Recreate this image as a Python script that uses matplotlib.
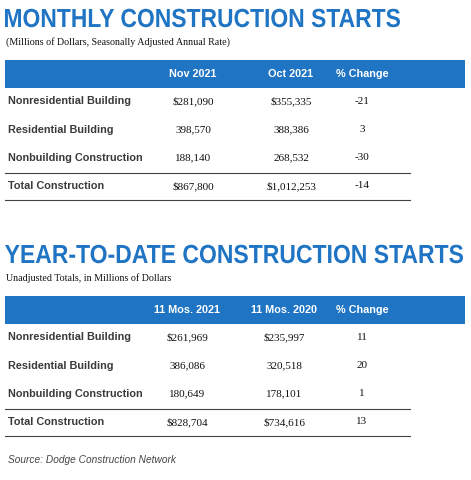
import matplotlib
matplotlib.use("Agg")
import matplotlib.pyplot as plt
from matplotlib.patches import Rectangle, PathPatch
from matplotlib.textpath import TextPath
from matplotlib.font_manager import FontProperties
from matplotlib.transforms import Affine2D

BLUE = "#1f74c3"
GRAY = "#3a3a3a"

m_title = "MONTHLY CONSTRUCTION STARTS"
m_sub = "(Millions of Dollars, Seasonally Adjusted Annual Rate)"
m_headers = ["Nov 2021", "Oct 2021", "% Change"]
m_rows = ["Nonresidential Building", "Residential Building", "Nonbuilding Construction", "Total Construction"]
m_col1 = ["$281,090", "398,570", "188,140", "$867,800"]
m_col2 = ["$355,335", "388,386", "268,532", "$1,012,253"]
m_col3 = ["-21", "3", "-30", "-14"]

y_title = "YEAR-TO-DATE CONSTRUCTION STARTS"
y_sub = "Unadjusted Totals, in Millions of Dollars"
y_headers = ["11 Mos. 2021", "11 Mos. 2020", "% Change"]
y_rows = ["Nonresidential Building", "Residential Building", "Nonbuilding Construction", "Total Construction"]
y_col1 = ["$261,969", "386,086", "180,649", "$828,704"]
y_col2 = ["$235,997", "320,518", "178,101", "$734,616"]
y_col3 = ["11", "20", "1", "13"]

source = "Source: Dodge Construction Network"

fig = plt.figure(figsize=(4.71, 4.8), dpi=100)
ax = fig.add_axes([0, 0, 1, 1])
ax.set_xlim(0, 471)
ax.set_ylim(480, 0)
ax.axis("off")

SERIF = ["Liberation Serif", "DejaVu Serif"]
SANS = ["Liberation Sans", "DejaVu Sans"]

def title_path(text, x0, x1, ybase, cap):
    fp = FontProperties(family="Liberation Sans", weight="bold")
    tp = TextPath((0, 0), text, size=10, prop=fp)
    ext = tp.get_extents()
    capref = TextPath((0, 0), "M", size=10, prop=fp).get_extents().height
    sx = (x1 - x0) / ext.width
    sy = cap / capref
    tr = Affine2D().translate(-ext.x0, 0).scale(sx, -sy).translate(x0, ybase)
    ax.add_patch(PathPatch(tr.transform_path(tp), color=BLUE, lw=0))

def block(top, title, x1, sub, headers, rows, c1, c2, c3, hx):
    title_path(title, 5, x1, top + 9, 18)
    ax.text(6, top + 24, sub, color="#111111", fontsize=7.2, family=SERIF, va="center")
    hb_top = top + 42
    ax.add_patch(Rectangle((5, hb_top), 460, 28, color=BLUE, lw=0))
    for x, h in zip(hx, headers):
        ax.text(x, hb_top + 14, h, color="white", fontsize=7.8, fontweight="bold",
                family=SANS, ha="center", va="center")
    ys = [hb_top + 41, hb_top + 70, hb_top + 98, hb_top + 126]
    for i, y in enumerate(ys):
        ax.text(8, y, rows[i], color=GRAY, fontsize=7.8, fontweight="bold",
                family=SANS, va="center")
        ax.text(hx[0], y, c1[i], color="#111111", fontsize=8, family=SERIF, ha="center", va="center")
        ax.text(hx[1], y, c2[i], color="#111111", fontsize=8, family=SERIF, ha="center", va="center")
        ax.text(hx[2], y, c3[i], color="#111111", fontsize=8, family=SERIF, ha="center", va="center")
    ax.plot([5, 410], [hb_top + 113, hb_top + 113], color="#444444", lw=0.8)
    ax.plot([5, 410], [hb_top + 140, hb_top + 140], color="#444444", lw=0.8)

block(18, m_title, 400, m_sub, m_headers, m_rows, m_col1, m_col2, m_col3, [193, 291, 362])
block(254, y_title, 463, y_sub, y_headers, y_rows, y_col1, y_col2, y_col3, [187, 284, 362])

ax.text(8, 460, source, color="#444444", fontsize=7.3, style="italic", family=SANS, va="center")

fig.savefig("out.png", dpi=100)
